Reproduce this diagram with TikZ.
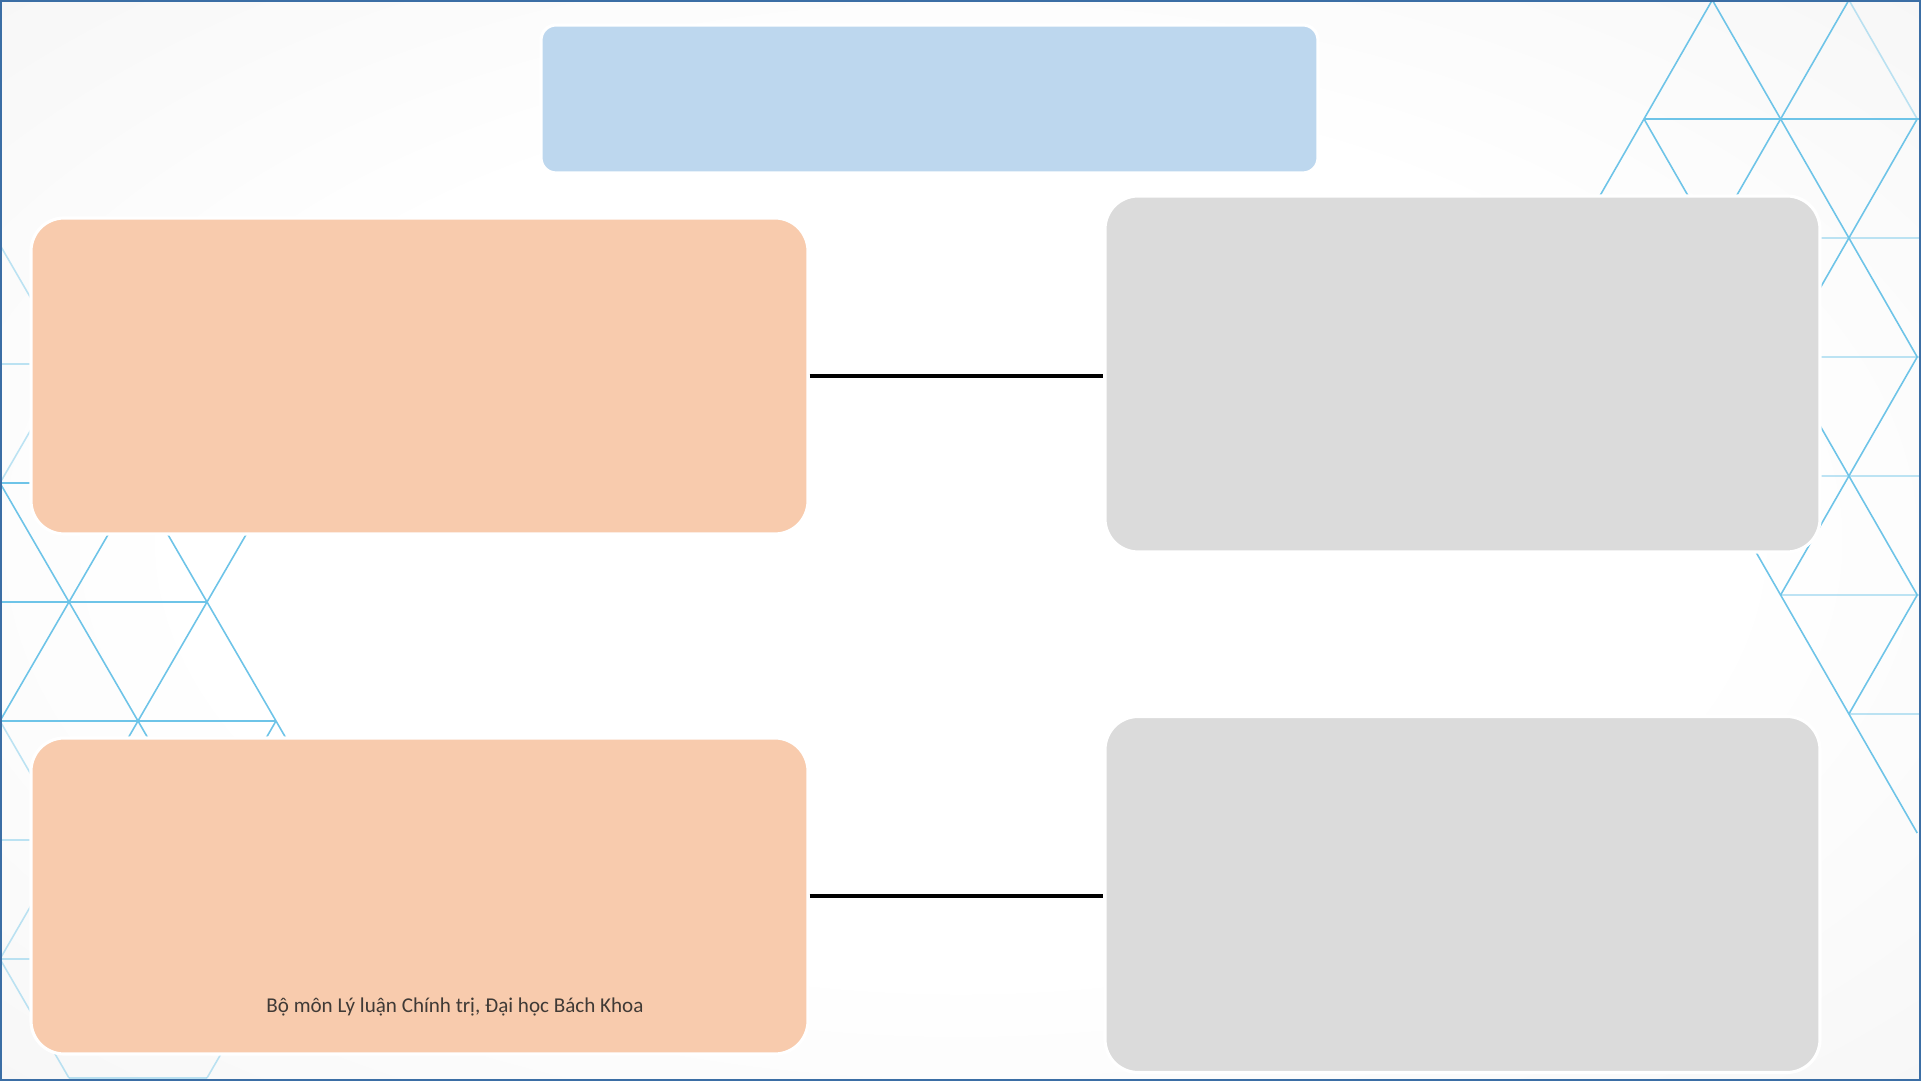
\documentclass[tikz,border=0pt]{standalone}
\usepackage{fontspec}
\newfontfamily\cardfont{Carlito}

\definecolor{titleblue}{RGB}{189,215,238}
\definecolor{peach}{RGB}{248,203,173}
\definecolor{cardgray}{RGB}{219,219,219}
\definecolor{lattice}{RGB}{110,196,232}
\definecolor{edgeblue}{RGB}{59,110,165}
\definecolor{deptink}{RGB}{64,58,54}

\pgfdeclareradialshading{slidebg}{\pgfpointorigin}{color(0bp)=(white); color(20bp)=(white); color(45bp)=(black!5); color(72bp)=(black!10)}

\begin{document}
\begin{tikzpicture}[
    card/.style={rounded corners=0.33cm, draw=white, line width=0.9pt, inner sep=0pt},
    leftcard/.style={card, fill=peach, minimum width=7.77cm, minimum height=3.16cm},
    rightcard/.style={card, fill=cardgray, minimum width=7.15cm, minimum height=3.56cm},
    link/.style={line width=0.9pt, black},
    tri/.style={lattice, line width=0.45pt},
    faint/.style={tri, opacity=0.45}
  ]
\useasboundingbox (0,0) rectangle (19.21,-10.81);
\shade[shading=slidebg] (0,0) rectangle (19.21,-10.81);

% triangles, top right
\begin{scope}[shift={(16.44,0)}, x=0.683cm, y=-1.19cm]
	\draw[tri] (1,0) -- (-1,2);
	\draw[tri] (1,0) -- (4,3);
	\draw[tri] (3,0) -- (0,3);
	\draw[faint] (3,0) -- (4,1);
	\draw[tri] (0,1) -- (4.06,1);
	\draw[tri] (0,1) -- (4,5);
	\draw[tri] (4,1) -- (1,4);
	\draw[faint] (1,2) -- (4.06,2);
	\draw[faint] (2,3) -- (4.06,3);
	\draw[tri] (4,3) -- (2,5);
	\draw[faint] (1,4) -- (4.06,4);
	\draw[tri] (0,3) -- (4,7);
	\draw[faint] (2,5) -- (4.06,5);
	\draw[tri] (4,5) -- (3,6);
	\draw[faint] (3,6) -- (4.06,6);
\end{scope}

% triangles, bottom left
\begin{scope}[shift={(0,-2.45)}, x=0.69cm, y=-1.19cm]
	\draw[faint] (0,0) -- (1,1);
	\draw[faint] (0,1) -- (1,1);
	\draw[faint] (1,1) -- (0,2);
	\draw[tri] (0,2) -- (2,2);
	\draw[tri] (0,2) -- (3,5);
	\draw[tri] (2,2) -- (0,4);
	\draw[tri] (2,2) -- (5,5);
	\draw[tri] (0,3) -- (3,3);
	\draw[tri] (4,2) -- (1.5,4.5);
	\draw[tri] (0,4) -- (4,4);
	\draw[tri] (4,4) -- (3.5,4.5);
	\draw[faint] (0,4) -- (1,5);
	\draw[faint] (0,5) -- (1,5);
	\draw[faint] (1,5) -- (0,6);
	\draw[faint] (0,6) -- (1,6);
	\draw[faint] (0,6) -- (1,7);
	\draw[faint] (1,7) -- (3,7);
	\draw[faint] (4,6) -- (3,7);
\end{scope}

\node[card, rounded corners=0.15cm, fill=titleblue, minimum width=7.77cm, minimum height=1.48cm] (title) at (9.295,-0.99) {};

\node[leftcard] (topleft) at (4.195,-3.76) {};
\node[leftcard] (botleft) at (4.195,-8.96) {};
\node[rightcard] (topright) at (14.625,-3.74) {};
\node[rightcard] (botright) at (14.625,-8.945) {};

\node[font=\cardfont\fontsize{6.0}{7.5}\selectfont, text=deptink, inner sep=0pt] (dept) at (4.55,-10.07) {Bộ môn Lý luận Chính trị, Đại học Bách Khoa};

\draw[link] (topleft.east) -- (topleft.east -| topright.west);
\draw[link] (botleft.east) -- (botleft.east -| botright.west);

\draw[edgeblue, line width=0.7pt] (0.012,-0.012) rectangle (19.198,-10.798);
\end{tikzpicture}
\end{document}
